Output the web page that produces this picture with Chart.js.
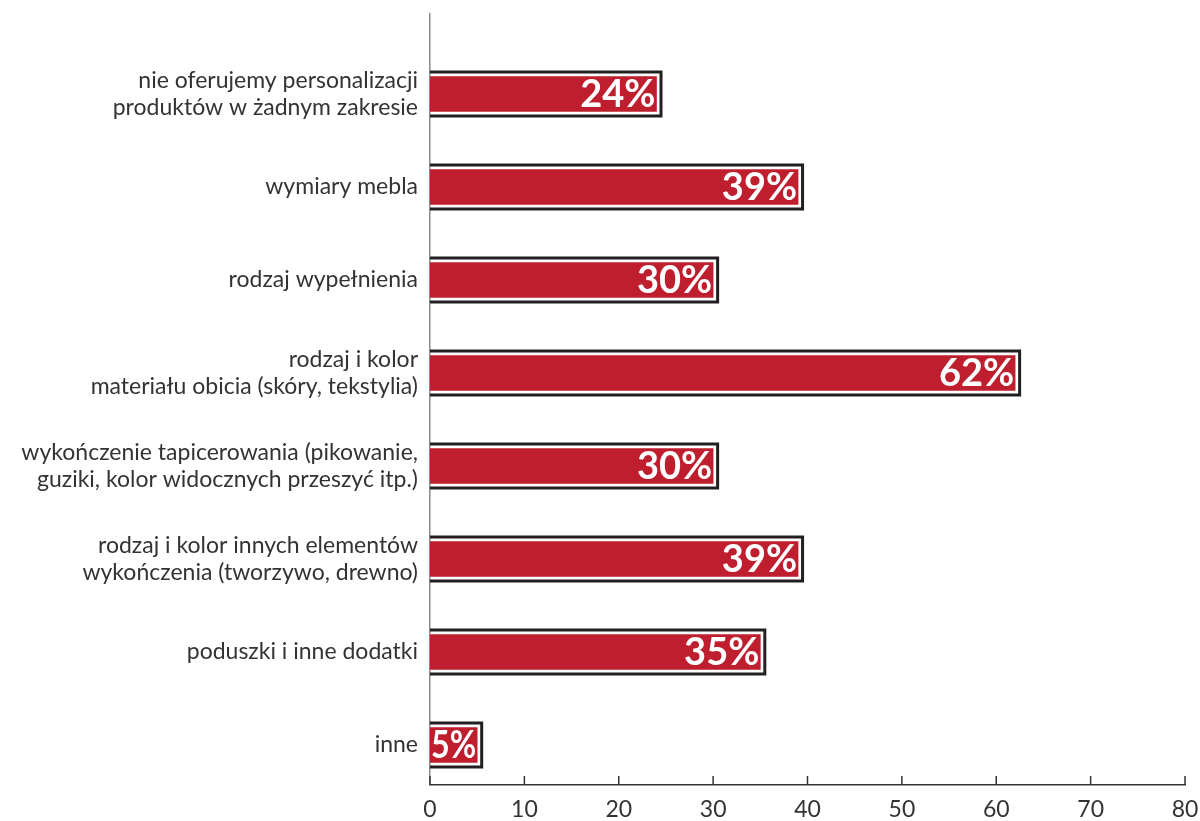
<!DOCTYPE html>
<html lang="pl">
<head>
    <meta charset="UTF-8">
    <title>Personalizacja produktów</title>
    <script src="https://cdn.jsdelivr.net/npm/chart.js@4/dist/chart.umd.min.js"></script>
    <style>
        html, body { margin: 0; padding: 0; background: #fff; }
        #wrap { width: 1200px; height: 821px; position: relative; }
    </style>
</head>
<body>
    <div id="wrap"><canvas id="chart"></canvas></div>

    <script>
        const categories = [
            ['nie oferujemy personalizacji', 'produktów w żadnym zakresie'],
            'wymiary mebla',
            'rodzaj wypełnienia',
            ['rodzaj i kolor', 'materiału obicia (skóry, tekstylia)'],
            ['wykończenie tapicerowania (pikowanie,', 'guziki, kolor widocznych przeszyć itp.)'],
            ['rodzaj i kolor innych elementów', 'wykończenia (tworzywo, drewno)'],
            'poduszki i inne dodatki',
            'inne'
        ];
        const values = [24, 39, 30, 62, 30, 39, 35, 5];
        const xTicks = [0, 10, 20, 30, 40, 50, 60, 70, 80];

        const RED = '#be1e2d';
        const FRAME = '#231f20';

        // frame around each bar (white gap, dark outline, open on the left) + value label
        const barFrames = {
            id: 'barFrames',
            afterDatasetsDraw(chart) {
                const ctx = chart.ctx;
                const meta = chart.getDatasetMeta(0);
                ctx.save();
                meta.data.forEach((bar, i) => {
                    const half = bar.height / 2;
                    const gap = 4.5;
                    const top = bar.y - half - gap;
                    const bottom = bar.y + half + gap;
                    const right = bar.x + gap;
                    ctx.strokeStyle = FRAME;
                    ctx.lineWidth = 3;
                    ctx.lineJoin = 'miter';
                    ctx.beginPath();
                    ctx.moveTo(bar.base, top);
                    ctx.lineTo(right, top);
                    ctx.lineTo(right, bottom);
                    ctx.lineTo(bar.base, bottom);
                    ctx.stroke();

                    // label, squeezed horizontally when the bar is too short
                    const text = values[i] + '%';
                    ctx.fillStyle = '#ffffff';
                    ctx.font = 'bold 38px Lato';
                    ctx.textAlign = 'right';
                    ctx.textBaseline = 'middle';
                    const room = bar.x - bar.base - 2;
                    const w = ctx.measureText(text).width;
                    const sx = Math.min(1, room / w);
                    ctx.save();
                    ctx.translate(bar.x - 1, bar.y + 1);
                    ctx.scale(sx, 1);
                    ctx.fillText(text, 0, 0);
                    ctx.restore();
                });
                ctx.restore();
            },
            afterDraw(chart) {
                // short upward tick marks on the value axis
                const x = chart.scales.x;
                const ctx = chart.ctx;
                ctx.save();
                ctx.strokeStyle = '#333333';
                ctx.lineWidth = 1.5;
                xTicks.forEach(v => {
                    const px = x.getPixelForValue(v);
                    ctx.beginPath();
                    ctx.moveTo(px, x.top);
                    ctx.lineTo(px, x.top - 9);
                    ctx.stroke();
                });
                ctx.restore();
            }
        };

        // keep tick labels from pushing the plot area inwards
        const noOverhang = scale => {
            scale.paddingLeft = 0;
            scale.paddingRight = 0;
            scale.paddingTop = 0;
            scale.paddingBottom = 0;
        };

        new Chart(document.getElementById('chart'), {
            type: 'bar',
            data: {
                datasets: [{
                    data: values.map((v, i) => ({ x: v, y: i })),
                    backgroundColor: RED,
                    borderWidth: 0,
                    barThickness: 35
                }]
            },
            options: {
                indexAxis: 'y',
                responsive: true,
                maintainAspectRatio: false,
                animation: false,
                layout: { padding: { top: 14, right: 15, left: 0, bottom: 0 } },
                plugins: {
                    legend: { display: false },
                    tooltip: { enabled: false }
                },
                scales: {
                    x: {
                        type: 'linear',
                        min: 0,
                        max: 80,
                        afterBuildTicks: scale => { scale.ticks = xTicks.map(v => ({ value: v })); },
                        afterFit: scale => { scale.height = 36; noOverhang(scale); },
                        grid: { display: false, drawTicks: false },
                        border: { display: true, color: '#333333', width: 1.5 },
                        ticks: {
                            padding: 11,
                            color: '#333333',
                            font: { family: 'Lato', size: 23 }
                        }
                    },
                    y: {
                        type: 'linear',
                        reverse: true,
                        offset: false,
                        min: -0.86,
                        max: 7.43,
                        afterBuildTicks: scale => { scale.ticks = categories.map((c, i) => ({ value: i })); },
                        afterFit: scale => { scale.width = 430; noOverhang(scale); },
                        grid: { display: false, drawTicks: false, offset: false },
                        border: { display: true, color: '#8c8c8c', width: 1.5 },
                        ticks: {
                            padding: 12,
                            color: '#333333',
                            autoSkip: false,
                            font: { family: 'Lato', size: 23, lineHeight: 1.18 },
                            callback: value => categories[value]
                        }
                    }
                }
            },
            plugins: [barFrames]
        });
    </script>
</body>
</html>
